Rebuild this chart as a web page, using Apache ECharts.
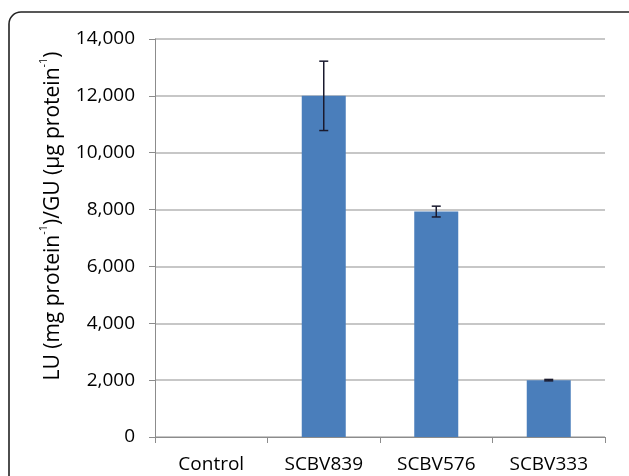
<!DOCTYPE html>
<html>
<head>
<meta charset="utf-8">
<script src="https://cdn.jsdelivr.net/npm/echarts@6/dist/echarts.min.js"></script>
<style>
html,body{margin:0;padding:0;background:#fff;}
#chart{width:629px;height:476px;}
</style>
</head>
<body>
<div id="chart"></div>
<script>
const categories = ['Control', 'SCBV839', 'SCBV576', 'SCBV333'];
const values = [0, 12000, 7930, 2000];
const errors = [0, 1220, 190, 25];
const yTicks = [0, 2000, 4000, 6000, 8000, 10000, 12000, 14000];

const FONT = 'Open Sans';
const chart = echarts.init(document.getElementById('chart'), null, {renderer: 'canvas'});

const errData = categories.map((c, i) => [i, values[i] - errors[i], values[i] + errors[i]]);

chart.setOption({
  animation: false,
  backgroundColor: '#fff',
  grid: {left: 155, right: 24, top: 39, bottom: 39},
  xAxis: {
    type: 'category',
    data: categories,
    axisLine: {lineStyle: {color: '#8c8c8c', width: 1}},
    axisTick: {show: true, length: 6, lineStyle: {color: '#8c8c8c'}},
    axisLabel: {color: '#000', fontFamily: FONT, fontSize: 19, margin: 18}
  },
  yAxis: {
    type: 'value',
    min: yTicks[0],
    max: yTicks[yTicks.length - 1],
    interval: 2000,
    axisLine: {show: true, lineStyle: {color: '#8c8c8c', width: 1}},
    axisTick: {show: true, length: 6, lineStyle: {color: '#8c8c8c'}},
    splitLine: {lineStyle: {color: '#b4b4b4', width: 1.5}},
    axisLabel: {
      color: '#000', fontFamily: FONT, fontSize: 19, margin: 20,
      formatter: v => v.toLocaleString('en-US')
    }
  },
  series: [
    {
      type: 'bar',
      data: values,
      barWidth: 44,
      itemStyle: {color: '#4a7ebb'}
    },
    {
      type: 'custom',
      data: errData,
      z: 10,
      renderItem: function (params, api) {
        const x = api.value(0);
        const lo = api.coord([x, api.value(1)]);
        const hi = api.coord([x, api.value(2)]);
        if (api.value(2) - api.value(1) <= 0) return null;
        const hw = 4.5;
        const style = {stroke: '#1a1a2e', lineWidth: 1.5};
        return {
          type: 'group',
          children: [
            {type: 'line', shape: {x1: lo[0], y1: lo[1], x2: hi[0], y2: hi[1]}, style: style},
            {type: 'line', shape: {x1: lo[0] - hw, y1: lo[1], x2: lo[0] + hw, y2: lo[1]}, style: style},
            {type: 'line', shape: {x1: hi[0] - hw, y1: hi[1], x2: hi[0] + hw, y2: hi[1]}, style: style}
          ]
        };
      }
    }
  ],
  graphic: [
    {
      type: 'rect',
      shape: {x: 9, y: 12, width: 640, height: 520, r: 12},
      style: {fill: 'none', stroke: '#222', lineWidth: 1.6},
      silent: true
    },
    {
      type: 'text',
      x: 51, y: 216,
      rotation: Math.PI / 2,
      style: {
        text: '{n|LU (mg protein}{s|-1}{n|)/GU (µg protein}{s|-1}{n|)}',
        align: 'center',
        verticalAlign: 'middle',
        fill: '#000',
        rich: {
          n: {fontFamily: FONT, fontSize: 21, fill: '#000', verticalAlign: 'bottom', lineHeight: 25},
          s: {fontFamily: FONT, fontSize: 11, fill: '#000', verticalAlign: 'top', lineHeight: 25}
        }
      }
    }
  ]
});
</script>
</body>
</html>
